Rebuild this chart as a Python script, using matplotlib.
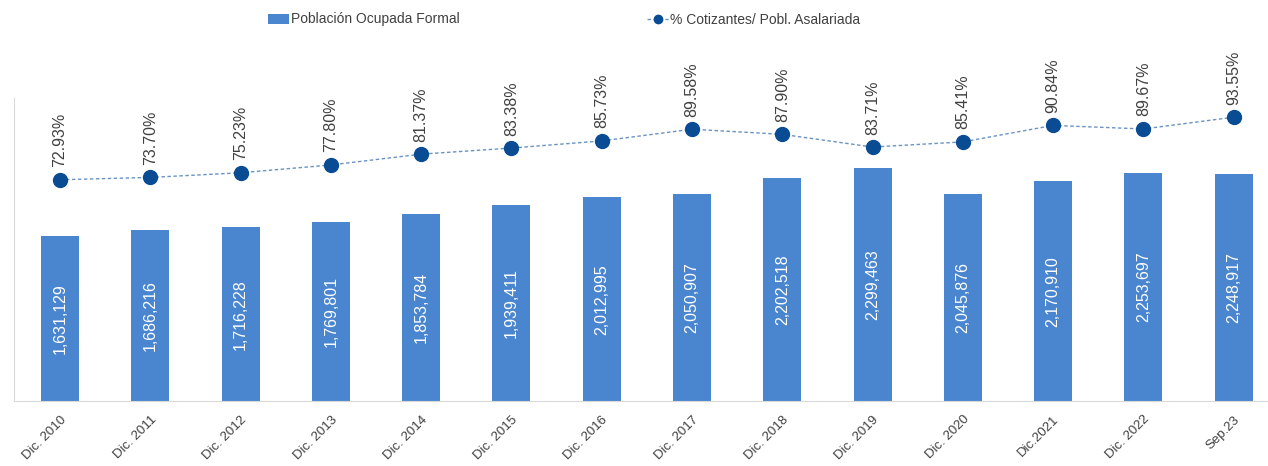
import matplotlib.pyplot as plt
import numpy as np

plt.rcParams['font.family'] = ['Liberation Sans', 'DejaVu Sans']

# datos
periodos = ["Dic. 2010", "Dic. 2011", "Dic. 2012", "Dic. 2013", "Dic. 2014", "Dic. 2015", "Dic. 2016",
            "Dic. 2017", "Dic. 2018", "Dic. 2019", "Dic. 2020", "Dic.2021", "Dic. 2022", "Sep.23"]
ocupada_formal = [1631129, 1686216, 1716228, 1769801, 1853784, 1939411, 2012995,
                  2050907, 2202518, 2299463, 2045876, 2170910, 2253697, 2248917]
pct_cotizantes = [72.93, 73.70, 75.23, 77.80, 81.37, 83.38, 85.73,
                  89.58, 87.90, 83.71, 85.41, 90.84, 89.67, 93.55]

bar_color = "#4A86CF"
line_color = "#6A93C2"
marker_color = "#0A4C94"
text_color = "#404040"

fig = plt.figure(figsize=(12.68, 4.66), dpi=100)
ax = fig.add_axes([0.011, 0.1395, 0.989, 0.651])
ax2 = ax.twinx()

x = np.arange(len(periodos))
bars = ax.bar(x, ocupada_formal, width=0.42, color=bar_color, label="Población Ocupada Formal", zorder=2)
for xi, v in zip(x, ocupada_formal):
    ax.text(xi, v / 2, f"{v:,}", rotation=90, ha='center', va='center', color='white', fontsize=11.5)

ln, = ax2.plot(x, pct_cotizantes, linestyle=(0, (2.5, 1.8)), linewidth=1.0, color=line_color,
               marker='o', markersize=10, markerfacecolor=marker_color, markeredgecolor=marker_color,
               label="% Cotizantes/ Pobl. Asalariada")
for xi, v in zip(x, pct_cotizantes):
    ax2.annotate(f"{v:.2f}%", (xi, v), xytext=(0, 9), textcoords='offset points',
                 rotation=90, ha='center', va='bottom', color=text_color, fontsize=11.5)

ax.set_xlim(-0.51, 13.38)
ax.set_ylim(0, 3000000)
ax2.set_ylim(0, 100)

ax.set_xticks(x)
ax.set_xticklabels(periodos, rotation=45, ha='right', rotation_mode='anchor', fontsize=9.5, color=text_color)
ax.tick_params(axis='x', length=0, pad=9)
ax.set_yticks([])
ax2.set_yticks([])

for a in (ax, ax2):
    a.spines['top'].set_visible(False)
    a.spines['right'].set_visible(False)
ax2.spines['left'].set_visible(False)
ax2.spines['bottom'].set_visible(False)
ax.spines['left'].set_color('#D9D9D9')
ax.spines['bottom'].set_color('#D9D9D9')

fig.legend([bars, ln], ["Población Ocupada Formal", "% Cotizantes/ Pobl. Asalariada"],
           loc='upper center', bbox_to_anchor=(0.445, 1.0), ncol=2, frameon=False, fontsize=10,
           handlelength=1.5, columnspacing=13.5, handletextpad=0.15, markerscale=0.6,
           labelcolor=text_color)

fig.savefig("out.png", dpi=100)
